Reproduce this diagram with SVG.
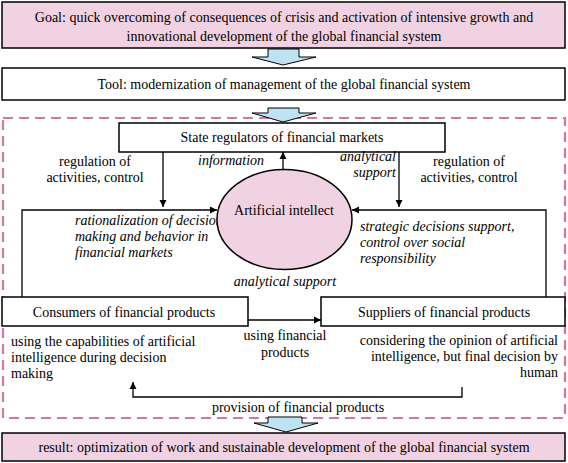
<svg xmlns="http://www.w3.org/2000/svg" width="568" height="463" viewBox="0 0 568 463" font-family="'Liberation Serif', 'Times New Roman', Times, serif">
<defs>
<marker id="ah" viewBox="0 0 10 10" refX="10" refY="5" markerWidth="7" markerHeight="8" markerUnits="userSpaceOnUse" orient="auto">
<path d="M0,0 L10,5 L0,10 z" fill="#000"/>
</marker>
<style>
text{font-size:14px;fill:#000}
.it{font-style:italic}
.box{fill:#fff;stroke:#000;stroke-width:1.5}
.pink{fill:#f0d2e2;stroke:#000;stroke-width:1.5}
.blk{fill:#bfe3f5;stroke:#000;stroke-width:1}
.ln{fill:none;stroke:#000;stroke-width:1.3}
.c{text-anchor:middle}
.r{text-anchor:end}
</style>
</defs>
<rect width="568" height="463" fill="#fff"/>

<!-- dashed frame -->
<rect x="3" y="118" width="562" height="300" fill="none" stroke="#d6789e" stroke-width="2.2" stroke-dasharray="10,6"/>

<g id="goal">
<rect class="pink" x="2" y="2" width="563" height="46"/>
<text class="c" x="284" y="22">Goal: quick overcoming of consequences of crisis and activation of intensive growth and</text>
<text class="c" x="284" y="41">innovational development of the global financial system</text>
</g>

<g id="arrow1"><path class="blk" d="M268,49 H299 V57 H316 L283,65 L252,57 H268 Z"/></g>

<g id="tool">
<rect class="box" x="2" y="68" width="563" height="32"/>
<text class="c" x="284" y="89">Tool: modernization of management of the global financial system</text>
</g>

<g id="arrow2"><path class="blk" d="M268,108 H299 V113 H316 L283,122 L252,113 H268 Z"/></g>

<g id="regulators">
<rect class="box" x="119" y="123" width="326" height="29"/>
<text class="c" x="282" y="142">State regulators of financial markets</text>
</g>

<g id="labels">
<text class="c" x="95" y="166">regulation of</text>
<text class="c" x="95" y="182">activities, control</text>
<text class="it" x="198" y="165">information</text>
<text class="it r" x="396" y="161">analytical</text>
<text class="it r" x="396" y="177">support</text>
<text class="c" x="469" y="166">regulation of</text>
<text class="c" x="469" y="182">activities, control</text>
<text class="it" x="75" y="225">rationalization of decision</text>
<text class="it" x="75" y="241">making and behavior in</text>
<text class="it" x="75" y="257">financial markets</text>
<text class="it" x="360" y="231">strategic decisions support,</text>
<text class="it" x="360" y="247">control over social</text>
<text class="it" x="360" y="263">responsibility</text>
<text class="it c" x="285" y="286">analytical support</text>
<text class="c" x="285" y="340">using financial</text>
<text class="c" x="285" y="357">products</text>
<text x="11" y="346">using the capabilities of artificial</text>
<text x="11" y="362">intelligence during decision</text>
<text x="11" y="378">making</text>
<text class="r" x="558" y="345">considering the opinion of artificial</text>
<text class="r" x="558" y="361">intelligence, but final decision by</text>
<text class="r" x="558" y="377">human</text>
<text class="c" x="298" y="412">provision of financial products</text>
</g>

<g id="connectors">
<path class="ln" d="M163,152 V207" marker-end="url(#ah)"/>
<path class="ln" d="M399,152 V207" marker-end="url(#ah)"/>
<path class="ln" d="M283,170 V152" marker-end="url(#ah)"/>
<path class="ln" d="M22,297 V210 H217" marker-end="url(#ah)"/>
<path class="ln" d="M546,297 V210 H352" marker-end="url(#ah)"/>
<path class="ln" d="M248,320 H321" marker-end="url(#ah)"/>
<path class="ln" d="M462,387 V397 H133 V382" marker-end="url(#ah)"/>
</g>

<g id="ai">
<ellipse class="pink" cx="284.5" cy="219.5" rx="67.5" ry="50"/>
<text class="c" x="284" y="215">Artificial intellect</text>
</g>

<g id="consumers">
<rect class="box" x="2" y="297" width="246" height="29"/>
<text class="c" x="124" y="317">Consumers of financial products</text>
</g>

<g id="suppliers">
<rect class="box" x="321" y="297" width="244" height="29"/>
<text class="c" x="444" y="317">Suppliers of financial products</text>
</g>

<g id="arrow3"><path class="blk" d="M268,417 H302 V423 H318 L286,432 L254,423 H268 Z"/></g>

<g id="result">
<rect class="pink" x="2" y="433" width="563" height="28"/>
<text class="c" x="284" y="452">result: optimization of work and sustainable development of the global financial system</text>
</g>
</svg>
